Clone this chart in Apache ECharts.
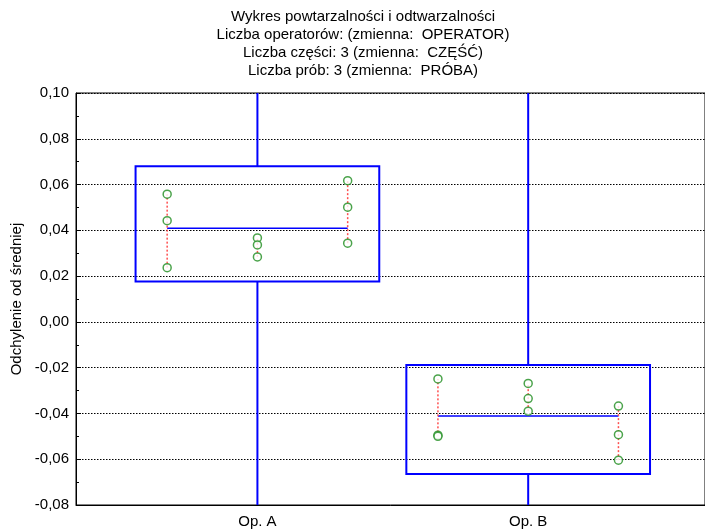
<!DOCTYPE html>
<html><head><meta charset="utf-8">
<script src="https://cdn.jsdelivr.net/npm/echarts@6/dist/echarts.min.js"></script>
<style>html,body{margin:0;padding:0;background:#fff}#c{width:705px;height:529px}</style>
</head><body><div id="c"></div>
<script>
// ---- data ----
const operators = ['Op. A', 'Op. B'];
const titleLines = [
  'Wykres powtarzalności i odtwarzalności',
  'Liczba operatorów: (zmienna:  OPERATOR)',
  'Liczba części: 3 (zmienna:  CZĘŚĆ)',
  'Liczba prób: 3 (zmienna:  PRÓBA)'
];
const yAxisName = 'Odchylenie od średniej';
// measurements per operator -> per part -> trials
const opA_parts = [[0.0558, 0.0442, 0.0237], [0.0367, 0.0336, 0.0284], [0.0617, 0.0501, 0.0344]];
const opB_parts = [[-0.0249, -0.0495, -0.0500], [-0.0269, -0.0335, -0.0390], [-0.0368, -0.0493, -0.0604]];
const boxTop = [0.068, -0.0188];
const boxBottom = [0.0176, -0.0665];
const whiskerHigh = [0.10, 0.10];
const whiskerLow = [-0.08, -0.08];
const yMin = -0.08, yMax = 0.10, yStep = 0.02;

// ---- build ----
const allParts = [opA_parts, opB_parts];
const partOffset = 1 / 3;
const boxHalf = 0.45;
const means = allParts.map(p => { const v = p.flat(); return v.reduce((a, b) => a + b, 0) / v.length; });

const pointData = [];
const rangeData = [];
allParts.forEach((parts, oi) => {
  parts.forEach((vals, pi) => {
    const x = oi + (pi - 1) * partOffset;
    vals.forEach(v => pointData.push([x, v]));
    rangeData.push([x, Math.min(...vals), Math.max(...vals)]);
  });
});
const boxData = operators.map((o, i) => [i, boxBottom[i], boxTop[i], means[i], whiskerLow[i], whiskerHigh[i]]);

const fmt = v => { if (Math.abs(v) < 1e-9) v = 0; return v.toFixed(2).replace('.', ','); };
const FONT = 'Arial, "Liberation Sans", sans-serif';
const BLUE = '#0000ff';

const chart = echarts.init(document.getElementById('c'));
chart.setOption({
  animation: false,
  backgroundColor: '#fff',
  title: {
    text: titleLines.join('\n'),
    left: 358, top: 3, textAlign: 'center',
    textStyle: { fontFamily: FONT, fontSize: 15, fontWeight: 'normal', lineHeight: 18, color: '#000' }
  },
  grid: { left: 76, top: 93, bottom: 24, right: -3, show: true, borderColor: '#000', borderWidth: 1 },
  xAxis: {
    type: 'value', min: -0.670, max: 1.653,
    axisLine: { show: true, onZero: false, lineStyle: { color: '#000', width: 1 } },
    axisTick: { show: false },
    splitLine: { show: false },
    axisLabel: {
      customValues: operators.map((o, i) => i),
      formatter: v => operators[Math.round(v)] || '',
      fontFamily: FONT, fontSize: 15, color: '#000', margin: 9
    }
  },
  yAxis: {
    type: 'value', min: yMin, max: yMax, interval: yStep,
    name: yAxisName, nameLocation: 'middle', nameGap: 51,
    nameTextStyle: { fontFamily: FONT, fontSize: 15, color: '#000' },
    axisLine: { show: true, onZero: false, lineStyle: { color: '#000', width: 1 } },
    axisTick: { show: true, inside: true, length: 5, lineStyle: { color: '#000' } },
    minorTick: { show: true, splitNumber: 2, length: 3, lineStyle: { color: '#000' } },
    splitLine: { show: true, lineStyle: { color: '#000', type: [1.5, 1.5], width: 1 } },
    axisLabel: { formatter: fmt, fontFamily: FONT, fontSize: 15, color: '#000', margin: 7 }
  },
  series: [
    {
      type: 'custom', z: 2,
      data: boxData,
      renderItem: (params, api) => {
        const x = api.value(0);
        const lo = api.coord([x - boxHalf, api.value(1)]);
        const hi = api.coord([x + boxHalf, api.value(2)]);
        const c = api.coord([x, api.value(3)]);
        const ml = api.coord([x - partOffset, api.value(3)]);
        const mr = api.coord([x + partOffset, api.value(3)]);
        const wl = api.coord([x, api.value(4)]);
        const wh = api.coord([x, api.value(5)]);
        return {
          type: 'group', children: [
            { type: 'line', shape: { x1: c[0], y1: wh[1], x2: c[0], y2: hi[1] }, style: { stroke: BLUE, lineWidth: 2 } },
            { type: 'line', shape: { x1: c[0], y1: lo[1], x2: c[0], y2: wl[1] }, style: { stroke: BLUE, lineWidth: 2 } },
            { type: 'rect', shape: { x: lo[0], y: hi[1], width: hi[0] - lo[0], height: lo[1] - hi[1] }, style: { fill: 'none', stroke: BLUE, lineWidth: 2 } },
            { type: 'line', shape: { x1: ml[0], y1: ml[1], x2: mr[0], y2: mr[1] }, style: { stroke: BLUE, lineWidth: 1.5 } }
          ]
        };
      }
    },
    {
      type: 'custom', z: 3,
      data: rangeData,
      renderItem: (params, api) => {
        const a = api.coord([api.value(0), api.value(1)]);
        const b = api.coord([api.value(0), api.value(2)]);
        return { type: 'line', shape: { x1: a[0], y1: a[1], x2: b[0], y2: b[1] }, style: { stroke: '#ff5050', lineWidth: 1.5, lineDash: [2, 2] } };
      }
    },
    {
      type: 'scatter', z: 4,
      data: pointData,
      symbol: 'circle', symbolSize: 8,
      itemStyle: { color: '#ffffff', borderColor: '#1e8c1e', borderWidth: 1.5 }
    }
  ]
});
</script>
</body></html>
